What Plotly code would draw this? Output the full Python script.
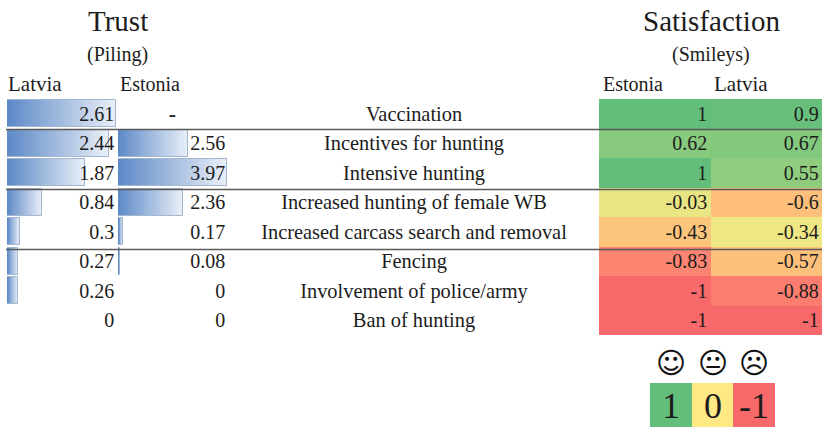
"""Trust (piling) vs satisfaction (smileys) table: data bars + colour scale."""

import plotly.graph_objects as go

W, H = 829, 434

# ── data ──
MEASURES = [
    "Vaccination",
    "Incentives for hunting",
    "Intensive hunting",
    "Increased hunting of female WB",
    "Increased carcass search and removal",
    "Fencing",
    "Involvement of police/army",
    "Ban of hunting",
]
TRUST_LATVIA = [2.61, 2.44, 1.87, 0.84, 0.3, 0.27, 0.26, 0]
TRUST_ESTONIA = [None, 2.56, 3.97, 2.36, 0.17, 0.08, 0, 0]
SAT_ESTONIA = [1, 0.62, 1, -0.03, -0.43, -0.83, -1, -1]
SAT_LATVIA = [0.9, 0.67, 0.55, -0.6, -0.34, -0.57, -0.88, -1]
LEGEND_VALUES = [1, 0, -1]
LEGEND_FACES = ["☺", "😐", "☹"]

# ── style ──
SERIF = "Liberation Serif, Times New Roman, serif"
INK = "#1c1c1c"
RULE = "#5a5a5a"
BAR_DARK = (90, 135, 198)
BAR_LIGHT = (232, 238, 247)
BAR_EDGE = "#a3b6cf"
GRADIENT_STEPS = 30
TEXT_NUDGE = 0.068  # row text sits about 2px below the row centre
HEAT_SCALE = [
    [0.0, "#f8696b"],
    [0.085, "#fb8570"],
    [0.2, "#fdbf7b"],
    [0.285, "#fdc57c"],
    [0.33, "#efe784"],
    [0.485, "#e9e583"],
    [0.775, "#8fcc7e"],
    [0.95, "#68bf7b"],
    [1.0, "#63be7b"],
]
KEY_SCALE = [[0.0, "#f8696b"], [0.5, "#ffe984"], [1.0, "#63be7b"]]


def px_x(a, b):
    return [a / W, b / W]


def px_y(top, bottom):
    return [1 - bottom / H, 1 - top / H]


def label(v):
    return "-" if v is None else str(v)


def mix(t):
    return "rgb(%d,%d,%d)" % tuple(round(d + (l - d) * t) for d, l in zip(BAR_DARK, BAR_LIGHT))


fig = go.Figure()


def add_data_bars(values, xaxis):
    clean = [0 if v is None else v for v in values]
    # longest (lightest) first, so each shorter slice paints over it: fakes the gradient
    for i in range(GRADIENT_STEPS, 0, -1):
        t = i / GRADIENT_STEPS
        fig.add_trace(go.Bar(
            x=[v * t for v in clean], y=MEASURES, orientation="h", xaxis=xaxis, yaxis="y",
            width=0.92, marker=dict(color=mix(t), line_width=0), hoverinfo="skip",
        ))
    fig.add_trace(go.Bar(
        x=clean, y=MEASURES, orientation="h", xaxis=xaxis, yaxis="y", width=0.92,
        marker=dict(color="rgba(0,0,0,0)", line=dict(color=BAR_EDGE, width=1)), hoverinfo="skip",
    ))


add_data_bars(TRUST_LATVIA, "x")
add_data_bars(TRUST_ESTONIA, "x2")

# satisfaction colour scale
fig.add_trace(go.Heatmap(
    z=[[e, l] for e, l in zip(SAT_ESTONIA, SAT_LATVIA)], x=[0, 1], y=MEASURES,
    xaxis="x4", yaxis="y", zmin=-1, zmax=1, colorscale=HEAT_SCALE, showscale=False, xgap=0, ygap=0,
    hoverinfo="skip",
))

NUM_FONT = dict(family=SERIF, size=20, color=INK)

# number columns sit on yaxis3 (same rows, nudged down a little like the source text)
fig.add_trace(go.Scatter(
    x=[max(TRUST_LATVIA) * 0.985] * 8, y=MEASURES, xaxis="x", yaxis="y3", mode="text",
    text=[label(v) for v in TRUST_LATVIA], textposition="middle left",
    textfont=NUM_FONT, cliponaxis=False,
))
est_rows = [m for m, v in zip(MEASURES, TRUST_ESTONIA) if v is not None]
fig.add_trace(go.Scatter(
    x=[max(v for v in TRUST_ESTONIA if v is not None) * 0.985] * 7, y=est_rows, xaxis="x2", yaxis="y3",
    mode="text", text=[label(v) for v in TRUST_ESTONIA if v is not None],
    textposition="middle left", textfont=NUM_FONT, cliponaxis=False,
))
fig.add_trace(go.Scatter(
    x=[max(TRUST_ESTONIA[1:]) * 0.5], y=MEASURES[:1], xaxis="x2", yaxis="y3", mode="text",
    text=[label(TRUST_ESTONIA[0])], textposition="middle center",
    textfont=dict(family=SERIF, size=22, color=INK, weight=700), cliponaxis=False,
))

# measure names
fig.add_trace(go.Scatter(
    x=[0] * 8, y=MEASURES, xaxis="x3", yaxis="y3", mode="text", text=MEASURES,
    textposition="middle center", textfont=dict(family=SERIF, size=20.4, color=INK),
))

for col, vals in enumerate([SAT_ESTONIA, SAT_LATVIA]):
    fig.add_trace(go.Scatter(
        x=[col + 0.47] * 8, y=MEASURES, xaxis="x4", yaxis="y3", mode="text",
        text=[label(v) for v in vals], textposition="middle left",
        textfont=NUM_FONT, cliponaxis=False,
    ))

# key
fig.add_trace(go.Heatmap(
    z=[LEGEND_VALUES], x=[0, 1, 2], y=[0], xaxis="x5", yaxis="y2", zmin=-1, zmax=1,
    colorscale=KEY_SCALE, showscale=False, text=[[str(v) for v in LEGEND_VALUES]],
    texttemplate="%{text}", textfont=dict(family=SERIF, size=36, color=INK), hoverinfo="skip",
))

annotations = []


def note(text, x, y, size, font=SERIF, color=INK):
    annotations.append(dict(
        text=text, x=x / W, y=1 - y / H, xref="paper", yref="paper", showarrow=False,
        xanchor="center", yanchor="middle", font=dict(family=font, size=size, color=color),
    ))


note("Trust", 118, 21, 29)
note("(Piling)", 117, 54, 20)
note("Satisfaction", 711, 21, 29)
note("(Smileys)", 711, 54, 20)
note("Latvia", 35, 84, 21)
note("Estonia", 150, 84, 20)
note("Estonia", 633, 84, 20)
note("Latvia", 741, 84, 21)
for i, face in enumerate(LEGEND_FACES):
    annotations.append(dict(
        text=face, x=i, y=1 - 362.5 / H, xref="x5", yref="paper", showarrow=False,
        xanchor="center", yanchor="middle", font=dict(family="DejaVu Sans", size=29, color="#111111"),
    ))

# rules between groups of measures
shapes = [
    dict(type="line", xref="paper", yref="y", x0=6 / W, x1=822 / W, y0=y, y1=y,
         line=dict(color=RULE, width=1.5), layer="above")
    for y in (0.53, 2.57, 4.6)
]

hidden = dict(visible=False, fixedrange=True, showgrid=False, zeroline=False)
rows = dict(type="category", categoryorder="array", categoryarray=MEASURES)
fig.update_layout(
    width=W, height=H, margin=dict(l=0, r=0, t=0, b=0), autosize=False,
    paper_bgcolor="white", plot_bgcolor="white", showlegend=False, barmode="overlay",
    bargap=0, annotations=annotations, shapes=shapes,
    xaxis=dict(domain=px_x(7, 116), range=[0, max(TRUST_LATVIA)], anchor="y", **hidden),
    xaxis2=dict(domain=px_x(118, 227), range=[0, max(TRUST_ESTONIA[1:])], anchor="y", **hidden),
    xaxis3=dict(domain=px_x(240, 588), range=[-1, 1], anchor="y", **hidden),
    xaxis4=dict(domain=px_x(599, 822), range=[-0.5, 1.5], anchor="y", **hidden),
    xaxis5=dict(domain=px_x(650, 775), range=[-0.5, 2.5], anchor="y2", **hidden),
    yaxis=dict(domain=px_y(99, 335), range=[7.5, -0.5], **rows, **hidden),
    yaxis2=dict(domain=px_y(383, 427), range=[-0.5, 0.5], anchor="x5", **hidden),
    yaxis3=dict(overlaying="y", range=[7.5 - TEXT_NUDGE, -0.5 - TEXT_NUDGE], **rows, **hidden),
)

fig.write_html("out.html", config={"displayModeBar": False},
               post_script="document.body.style.margin='0';")
